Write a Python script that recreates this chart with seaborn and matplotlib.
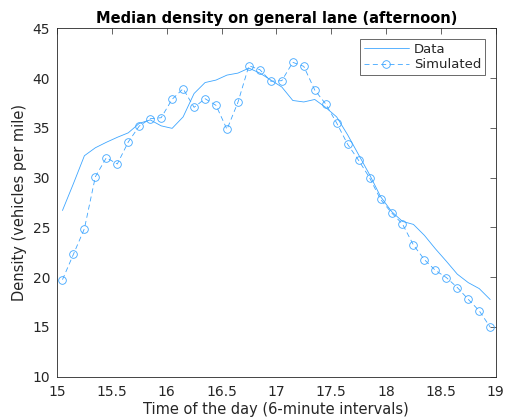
import numpy as np
import pandas as pd
import matplotlib
matplotlib.use('Agg')
import matplotlib.pyplot as plt
import seaborn as sns

# horario (centro de cada intervalo de 6 minutos)
tempo = [15.05, 15.15, 15.25, 15.35, 15.45, 15.55, 15.65, 15.75, 15.85, 15.95,
         16.05, 16.15, 16.25, 16.35, 16.45, 16.55, 16.65, 16.75, 16.85, 16.95,
         17.05, 17.15, 17.25, 17.35, 17.45, 17.55, 17.65, 17.75, 17.85, 17.95,
         18.05, 18.15, 18.25, 18.35, 18.45, 18.55, 18.65, 18.75, 18.85, 18.95]

densidade_dados = [26.7, 29.4, 32.2, 33.0, 33.55, 34.05, 34.5, 35.45, 35.8, 35.2,
                   34.95, 36.1, 38.45, 39.55, 39.8, 40.3, 40.5, 41.0, 40.5, 39.8,
                   39.1, 37.75, 37.6, 37.85, 37.05, 36.1, 34.3, 32.3, 30.3, 28.1,
                   26.6, 25.6, 25.3, 24.2, 22.85, 21.6, 20.3, 19.45, 18.85, 17.75]

densidade_simulada = [19.75, 22.3, 24.87, 30.09, 32.0, 31.37, 33.58, 35.18, 35.92, 36.02,
                      37.87, 38.93, 37.06, 37.93, 37.26, 34.85, 37.57, 41.24, 40.84, 39.68,
                      39.74, 41.58, 41.18, 38.8, 37.4, 35.49, 33.35, 31.74, 29.99, 27.82,
                      26.47, 25.34, 23.23, 21.76, 20.68, 19.96, 18.96, 17.77, 16.62, 14.98]

df = pd.DataFrame({'tempo': tempo, 'dados': densidade_dados, 'simulado': densidade_simulada})

sns.set_style('white')
plt.rcParams['font.family'] = ['DejaVu Sans']
cor = '#3ea6ff'

fig = plt.figure(figsize=(5.07, 4.2), dpi=100)
ax = fig.add_axes([0.1124, 0.1031, 0.8653, 0.8295])

sns.lineplot(data=df, x='tempo', y='dados', ax=ax, color=cor, lw=0.6, label='Data')
sns.lineplot(data=df, x='tempo', y='simulado', ax=ax, color=cor, lw=0.6,
             linestyle=(0, (6, 4)), marker='o', markersize=5.5,
             markerfacecolor='none', markeredgecolor=cor, markeredgewidth=0.6,
             label='Simulated')

ax.set_xlim(15, 19)
ax.set_ylim(10, 45)
ax.set_xticks(np.arange(15, 19.01, 0.5))
ax.set_xticklabels(['15', '15.5', '16', '16.5', '17', '17.5', '18', '18.5', '19'])
ax.set_yticks(range(10, 46, 5))

ax.set_title('Median density on general lane (afternoon)', fontsize=10.5,
             fontweight='bold', color='black', pad=4)
ax.set_xlabel('Time of the day (6-minute intervals)', fontsize=10.5, color='#262626', labelpad=2)
ax.set_ylabel('Density (vehicles per mile)', fontsize=10.5, color='#262626', labelpad=4)

for lado in ax.spines.values():
    lado.set_color('#262626')
    lado.set_linewidth(0.6)
ax.tick_params(direction='in', length=4, width=0.5, top=True, right=True,
               labelsize=10, colors='#262626')
ax.tick_params(axis='x', pad=6)
ax.tick_params(axis='y', pad=5)

leg = ax.legend(loc='upper right', fontsize=9.5, frameon=True, fancybox=False,
                edgecolor='#262626', handlelength=3.4, borderpad=0.3,
                labelspacing=0.2, handletextpad=0.4, borderaxespad=0.8)
leg.get_frame().set_linewidth(0.6)

fig.savefig('out.png', dpi=100)
